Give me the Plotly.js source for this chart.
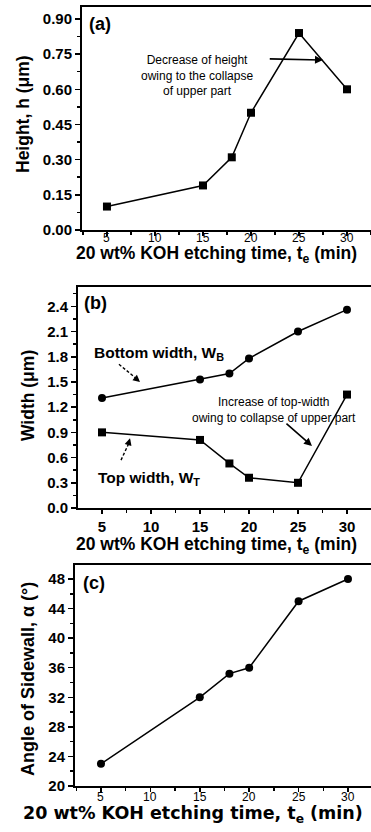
<!DOCTYPE html>
<html>
<head>
<meta charset="utf-8">
<script src="https://cdn.plot.ly/plotly-3.0.1.min.js"></script>
<style>
html,body{margin:0;padding:0;overflow:hidden;background:#fff;}
#chart{width:371px;height:832px;}
</style>
</head>
<body>
<div id="chart"></div>
<script>
// Data
var timeMin = [5, 15, 18, 20, 25, 30];
var heightUm = [0.10, 0.19, 0.31, 0.50, 0.84, 0.60];
var bottomWidthUm = [1.31, 1.53, 1.60, 1.78, 2.10, 2.36];
var topWidthUm = [0.90, 0.81, 0.53, 0.36, 0.30, 1.35];
var sidewallAngleDeg = [23, 32, 35.2, 36, 45, 48];
var xTickVals = [5, 10, 15, 20, 25, 30];
var xTickText = ['5', '10', '15', '20', '25', '30'];
var xTitle = '20 wt% KOH etching time, t<sub>e</sub> (min)';
var yTitleA = 'Height, h (μm)';
var yTitleB = 'Width (μm)';
var yTitleC = 'Angle of Sidewall, α (°)';

var W = 371, H = 832;
function px(v){ return v / W; }
function py(v){ return 1 - v / H; }

var SANS = 'Liberation Sans, Arial, sans-serif';
var NARROW = 'Liberation Sans Narrow, Liberation Sans, Arial, sans-serif';
var boldTick = {family: SANS, size: 15, color: '#000', weight: 'bold'};
var thinTick = {family: NARROW, size: 12, color: '#000'};
var titleFont = {family: SANS, size: 17.5, color: '#000', weight: 'bold'};

function xAxis(domain, range, anchor, tickFont, showLbl){
  return {
    domain: domain, range: range, anchor: anchor,
    tickmode: 'array', tickvals: xTickVals, ticktext: xTickText,
    ticks: 'outside', ticklen: 4, tickwidth: 1.5, tickcolor: '#000',
    showticklabels: showLbl,
    minor: {tick0: 0, dtick: 2.5, ticks: 'outside', ticklen: 3, tickwidth: 1.5, tickcolor: '#000', showgrid: false},
    showline: true, linewidth: 2, linecolor: '#000', mirror: true,
    showgrid: false, zeroline: false,
    tickfont: tickFont,
    automargin: false, fixedrange: true
  };
}
function yAxis(domain, range, anchor, dtick, mdtick, fmt){
  return {
    domain: domain, range: range, anchor: anchor,
    tick0: 0, dtick: dtick, tickformat: fmt,
    ticks: 'outside', ticklen: 5, tickwidth: 1.5, tickcolor: '#000',
    minor: {dtick: mdtick, ticks: 'outside', ticklen: 3, tickwidth: 1.5, tickcolor: '#000', showgrid: false},
    showline: true, linewidth: 2, linecolor: '#000', mirror: false,
    showgrid: false, zeroline: false,
    tickfont: boldTick,
    automargin: false, fixedrange: true
  };
}

var lineStyle = {color: '#000', width: 1.5};
var traces = [
  {x: timeMin, y: heightUm, xaxis: 'x', yaxis: 'y', mode: 'lines+markers', type: 'scatter',
   line: lineStyle, marker: {symbol: 'square', size: 8, color: '#000'}, showlegend: false},
  {x: timeMin, y: bottomWidthUm, xaxis: 'x2', yaxis: 'y2', mode: 'lines+markers', type: 'scatter',
   line: lineStyle, marker: {symbol: 'circle', size: 8, color: '#000'}, showlegend: false},
  {x: timeMin, y: topWidthUm, xaxis: 'x2', yaxis: 'y2', mode: 'lines+markers', type: 'scatter',
   line: lineStyle, marker: {symbol: 'square', size: 8, color: '#000'}, showlegend: false},
  {x: timeMin, y: sidewallAngleDeg, xaxis: 'x3', yaxis: 'y3', mode: 'lines+markers', type: 'scatter',
   line: lineStyle, marker: {symbol: 'circle', size: 8, color: '#000'}, showlegend: false}
];

var noteFont = {family: SANS, size: 12, color: '#000'};
var labelFont = {family: SANS, size: 18, color: '#000', weight: 'bold'};
var legFont = {family: SANS, size: 15.5, color: '#000', weight: 'bold'};

function titleAnn(x, y, text, font, angle){
  return {xref: 'paper', yref: 'paper', x: px(x), y: py(y), xanchor: 'center', yanchor: 'middle',
          text: text, showarrow: false, font: font, textangle: angle || 0, borderpad: 0};
}

var annotations = [
  // x-axis titles
  titleAnn(216, 254, xTitle, {family: SANS, size: 17.5, color: '#000', weight: 'bold'}),
  titleAnn(216, 545, xTitle, {family: SANS, size: 17.5, color: '#000', weight: 'bold'}),
  titleAnn(193, 814, xTitle, {family: 'DejaVu Sans, ' + SANS, size: 17.5, color: '#000', weight: 'bold'}),
  // y-axis titles
  titleAnn(23, 114, yTitleA, titleFont, -90),
  titleAnn(28, 396, yTitleB, titleFont, -90),
  titleAnn(28, 679, yTitleC, {family: SANS, size: 18, color: '#000', weight: 'bold'}, -90),
  // panel labels
  {xref: 'paper', yref: 'paper', x: px(87), y: py(24), xanchor: 'left', yanchor: 'middle', text: '(a)', showarrow: false, font: labelFont},
  {xref: 'paper', yref: 'paper', x: px(82), y: py(303), xanchor: 'left', yanchor: 'middle', text: '(b)', showarrow: false, font: labelFont},
  {xref: 'paper', yref: 'paper', x: px(81), y: py(583), xanchor: 'left', yanchor: 'middle', text: '(c)', showarrow: false, font: labelFont},
  // (a) note
  {xref: 'x', yref: 'y', x: 14.4, y: 0.661, text: 'Decrease of height<br>owing to the collapse<br>of upper part', showarrow: false, font: noteFont, align: 'center'},
  {xref: 'x', yref: 'y', x: 27.5, y: 0.725, ax: 21.8, ay: 0.73, axref: 'x', ayref: 'y', text: '', showarrow: true, arrowhead: 2, arrowsize: 1, arrowwidth: 1.6, arrowcolor: '#000'},
  // (b) labels
  {xref: 'x2', yref: 'y2', x: 4.0, y: 1.84, xanchor: 'left', yanchor: 'middle', text: 'Bottom width, W<sub>B</sub>', showarrow: false, font: legFont},
  {xref: 'x2', yref: 'y2', x: 4.4, y: 0.356, xanchor: 'left', yanchor: 'middle', text: 'Top width, W<sub>T</sub>', showarrow: false, font: legFont},
  {xref: 'x2', yref: 'y2', x: 22.55, y: 1.17, text: 'Increase of top-width<br>owing to collapse of upper part', showarrow: false, font: noteFont, align: 'center'},
  {xref: 'x2', yref: 'y2', x: 26.43, y: 0.737, ax: 23.67, ay: 1.02, axref: 'x2', ayref: 'y2', text: '', showarrow: true, arrowhead: 2, arrowsize: 1, arrowwidth: 1.6, arrowcolor: '#000'},
  // dashed arrow heads
  {xref: 'x2', yref: 'y2', x: 8.88, y: 1.50, ax: -6, ay: -5, text: '', showarrow: true, arrowhead: 2, arrowsize: 1, arrowwidth: 1.4, arrowcolor: '#000'},
  {xref: 'x2', yref: 'y2', x: 7.86, y: 0.83, ax: -2, ay: 7, text: '', showarrow: true, arrowhead: 2, arrowsize: 1, arrowwidth: 1.4, arrowcolor: '#000'}
];

// thin tick labels for panels (a) and (c), placed on the axis scale close to the axis line
xTickVals.forEach(function(v, i){
  annotations.push({xref: 'x', yref: 'paper', x: v, y: py(238), xanchor: 'center', yanchor: 'middle',
    text: xTickText[i], showarrow: false, font: thinTick, borderpad: 0});
  annotations.push({xref: 'x3', yref: 'paper', x: v, y: py(797), xanchor: 'center', yanchor: 'middle',
    text: xTickText[i], showarrow: false, font: thinTick, borderpad: 0});
});

var shapes = [
  {type: 'line', xref: 'x2', yref: 'y2', x0: 6.73, y0: 1.71, x1: 8.4, y1: 1.55, line: {color: '#000', width: 1.4, dash: '3px,2px'}},
  {type: 'line', xref: 'x2', yref: 'y2', x0: 6.94, y0: 0.57, x1: 7.7, y1: 0.76, line: {color: '#000', width: 1.4, dash: '3px,2px'}}
];

var layout = {
  width: W, height: H,
  margin: {l: 0, r: 0, t: 0, b: 0},
  paper_bgcolor: '#fff', plot_bgcolor: '#fff',
  showlegend: false,
  xaxis: xAxis([px(82), 1], [2.4, 32.5], 'y', thinTick, false),
  yaxis: yAxis([py(230), py(7)], [0, 0.951], 'x', 0.15, 0.075, '.2f'),
  xaxis2: xAxis([px(78), 1], [2.55, 32.45], 'y2', boldTick, true),
  yaxis2: yAxis([py(508), py(287)], [0, 2.63], 'x2', 0.3, 0.15, '.1f'),
  xaxis3: xAxis([px(75), 1], [2.37, 32.33], 'y3', thinTick, false),
  yaxis3: yAxis([py(786), py(565)], [20, 49.9], 'x3', 4, 2, 'd'),
  annotations: annotations,
  shapes: shapes
};

Plotly.newPlot('chart', traces, layout, {displayModeBar: false, staticPlot: true});
</script>
</body>
</html>
